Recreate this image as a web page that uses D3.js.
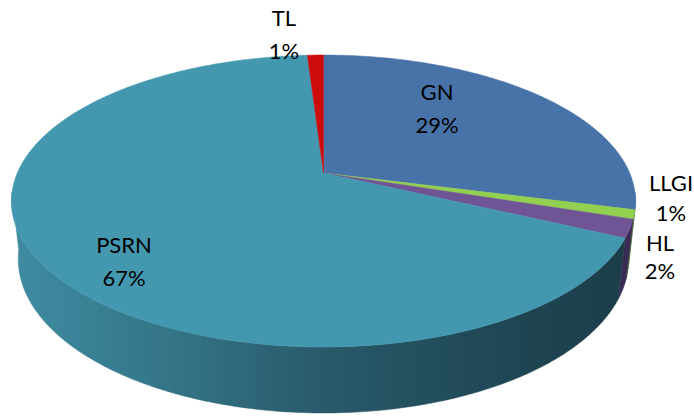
<!DOCTYPE html>
<html>
<head>
<meta charset="utf-8">
<script src="https://cdn.jsdelivr.net/npm/d3@7/dist/d3.min.js"></script>
<style>
  html, body { margin: 0; padding: 0; background: #ffffff; }
  svg { display: block; }
  text { font-family: Lato, "Open Sans", sans-serif; font-size: 22px; fill: #000; }
</style>
</head>
<body>
<svg id="chart" width="694" height="418"></svg>
<script>
// Share of each category (percent), clockwise from 12 o'clock
const categories = ["GN", "LLGI", "HL", "PSRN", "TL"];
const values = [29, 1, 2, 67, 1];
const labels = ["29%", "1%", "2%", "67%", "1%"];

const topColors  = ["#4773a9", "#92d050", "#6f5595", "#4398b0", "#cc0c0c"];
const wallColors = ["#2b4670", "#5f8a2e", "#3a2b55", "url(#psrnWall)", "#7a0a0a"];

// Label anchor points (centre x, first baseline y, line gap)
const labelPos = [[437, 100, 33], [671, 191, 30], [660, 251, 28], [124, 253, 33], [284, 26, 33]];

const W = 694, H = 418;
const svg = d3.select("#chart");

// Perspective view of a flat disc: centre, horizontal scale, depth scale,
// perspective strength and wall thickness.
const cx = 323.5, cy = 173;
const a = 306.2, s = 140.6, t = 0.1918;
const sinA = s / a, cosA = Math.sqrt(1 - sinA * sinA);
const rd = t / cosA;             // radius / camera distance
const p = rd * sinA, q = a * cosA;
const thick = 0.215;             // wall height relative to radius

function proj(theta, r, h) {
  const u = r * Math.sin(theta), v = -r * Math.cos(theta);
  const den = 1 - t * v + p * h;
  return [cx + a * u / den, cy + (s * v + q * h) / den];
}

function arcPoints(a0, a1, h) {
  const n = Math.max(2, Math.ceil(Math.abs(a1 - a0) / 0.01));
  return d3.range(n + 1).map(i => proj(a0 + (a1 - a0) * i / n, 1, h));
}

const pie = d3.pie().sort(null).value(d => d)
  .startAngle(0).endAngle(2 * Math.PI);
const arcs = pie(values);

const line = d3.line().curve(d3.curveLinear);

const defs = svg.append("defs");
const grad = defs.append("linearGradient")
  .attr("id", "psrnWall")
  .attr("gradientUnits", "userSpaceOnUse")
  .attr("x1", 12).attr("y1", 0).attr("x2", 636).attr("y2", 0);
[[0, "#3f8ca3"], [0.25, "#347587"], [0.5, "#285a6a"], [0.8, "#1f4654"], [1, "#1c3d49"]]
  .forEach(([o, c]) => grad.append("stop").attr("offset", o).attr("stop-color", c));

// Front part of the rim that faces the viewer
const visFrom = Math.acos(-t) - 0.06;
const visTo = 2 * Math.PI - Math.acos(-t) + 0.06;

const walls = svg.append("g");
arcs.forEach((d, i) => {
  const a0 = Math.max(d.startAngle, visFrom);
  const a1 = Math.min(d.endAngle, visTo);
  if (a1 <= a0) return;
  const pts = arcPoints(a0, a1, 0).concat(arcPoints(a1, a0, thick));
  walls.append("path")
    .attr("d", line(pts) + "Z")
    .attr("fill", wallColors[i])
    .attr("stroke", wallColors[i])
    .attr("stroke-width", 0.5);
});

// Top face slices
const tops = svg.append("g");
arcs.forEach((d, i) => {
  const pts = [proj(0, 0, 0)].concat(arcPoints(d.startAngle, d.endAngle, 0));
  tops.append("path")
    .attr("d", line(pts) + "Z")
    .attr("fill", topColors[i])
    .attr("stroke", topColors[i])
    .attr("stroke-width", 0.5)
    .attr("stroke-linejoin", "round");
});

// Category and percentage labels
const lbl = svg.append("g");
arcs.forEach((d, i) => {
  const [x, y, gap] = labelPos[i];
  const tx = lbl.append("text").attr("text-anchor", "middle");
  tx.append("tspan").attr("x", x).attr("y", y).text(categories[i]);
  tx.append("tspan").attr("x", x).attr("y", y + gap).text(labels[i]);
});
</script>
</body>
</html>
